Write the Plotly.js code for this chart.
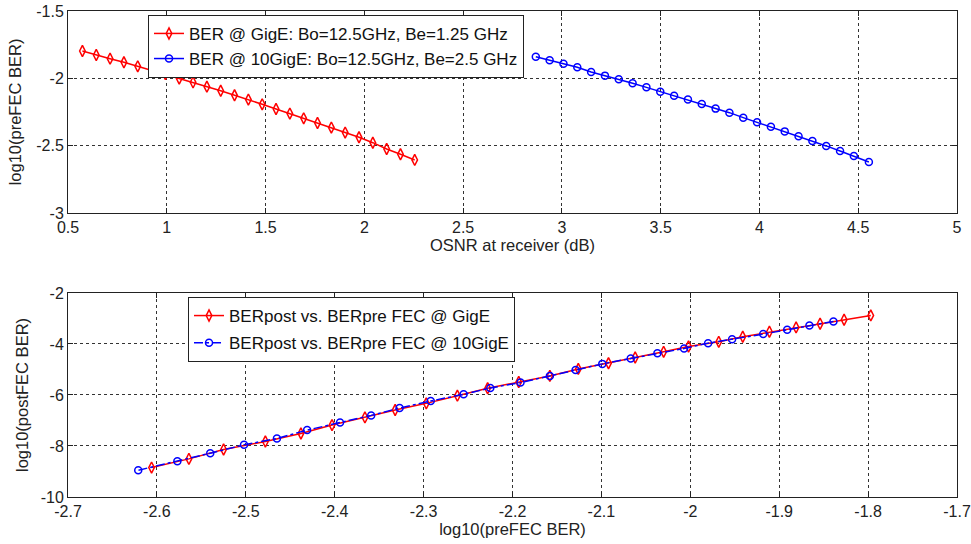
<!DOCTYPE html>
<html>
<head>
<meta charset="utf-8">
<script src="https://cdn.plot.ly/plotly-3.0.1.min.js"></script>
<style>html,body{margin:0;padding:0;background:#fff;}#chart{width:971px;height:544px;}</style>
</head>
<body>
<div id="chart"></div>
<script>
// Top panel: OSNR vs log10(preFEC BER)
const osnrGigE = [0.573,0.643,0.713,0.783,0.853,0.923,0.993,1.063,1.133,1.203,1.273,1.343,1.413,1.483,1.553,1.623,1.693,1.763,1.833,1.903,1.973,2.043,2.113,2.183,2.255];
const preGigE = [-1.797,-1.827,-1.854,-1.881,-1.911,-1.941,-1.968,-2.002,-2.030,-2.062,-2.092,-2.126,-2.158,-2.193,-2.228,-2.262,-2.297,-2.332,-2.366,-2.403,-2.438,-2.478,-2.525,-2.564,-2.606];
const osnr10G = [2.868,2.938,3.008,3.078,3.148,3.218,3.288,3.358,3.428,3.498,3.568,3.638,3.708,3.778,3.848,3.918,3.988,4.058,4.128,4.198,4.268,4.338,4.408,4.478,4.554];
const pre10G = [-1.839,-1.866,-1.891,-1.918,-1.953,-1.980,-2.007,-2.037,-2.067,-2.099,-2.129,-2.158,-2.191,-2.225,-2.255,-2.292,-2.327,-2.359,-2.394,-2.431,-2.465,-2.502,-2.540,-2.577,-2.621];
// Bottom panel: postFEC values (ordered along preGigE / pre10G above)
const postGigE = [-2.879,-3.049,-3.207,-3.351,-3.521,-3.718,-3.915,-4.098,-4.308,-4.531,-4.754,-4.977,-5.252,-5.490,-5.738,-6.026,-6.328,-6.590,-6.879,-7.180,-7.508,-7.823,-8.138,-8.505,-8.846];
const post10G = [-3.115,-3.272,-3.443,-3.613,-3.810,-3.967,-4.177,-4.361,-4.570,-4.780,-5.016,-5.252,-5.515,-5.725,-5.974,-6.236,-6.511,-6.800,-7.075,-7.377,-7.705,-7.954,-8.282,-8.597,-8.951];

const names = {
  topGigE: 'BER @ GigE: Bo=12.5GHz, Be=1.25 GHz',
  top10G: 'BER @ 10GigE: Bo=12.5GHz, Be=2.5 GHz',
  botGigE: 'BERpost vs. BERpre FEC @ GigE',
  bot10G: 'BERpost vs. BERpre FEC @ 10GigE'
};

const red = '#ff0000', blue = '#0000ff';
const diamond = {symbol:'diamond-tall-open', size:8, color:red, line:{width:1.5, color:red}};
const circle = {symbol:'circle-open', size:7, color:blue, line:{width:1.5, color:blue}};
const traces = [
  {x: osnrGigE, y: preGigE, name: names.topGigE, xaxis:'x', yaxis:'y', mode:'lines+markers',
   line:{color:red, width:1.5}, marker:diamond, legend:'legend', legendgroup:'a'},
  {x: osnr10G, y: pre10G, name: names.top10G, xaxis:'x', yaxis:'y', mode:'lines+markers',
   line:{color:blue, width:1.5}, marker:circle, legend:'legend', legendgroup:'a'},
  {x: preGigE, y: postGigE, name: names.botGigE, xaxis:'x2', yaxis:'y2', mode:'lines+markers',
   line:{color:red, width:1.5}, marker:diamond, legend:'legend2', legendgroup:'c'},
  {x: pre10G, y: post10G, name: names.bot10G, xaxis:'x2', yaxis:'y2', mode:'lines+markers',
   line:{color:blue, width:1.5, dash:'dashdot'}, marker:circle, legend:'legend2', legendgroup:'d'}
];

const font = {family:'Liberation Sans, Arial, sans-serif', size:16, color:'#222'};
const tfont = {family:'Liberation Sans, Arial, sans-serif', size:16.5, color:'#222'};
const axBase = {showline:true, mirror:'ticks', linecolor:'#222', linewidth:1, ticks:'inside', ticklen:5, tickcolor:'#222',
  showgrid:true, gridcolor:'#333', griddash:'dot', gridwidth:1, zeroline:false, tickfont:font};

const legBase = {bgcolor:'#fff', bordercolor:'#222', borderwidth:1, font:{family:font.family, size:17, color:'#111'},
  xanchor:'left', yanchor:'top'};

const layout = {
  width:971, height:544,
  margin:{l:68, r:14, t:11, b:47},
  paper_bgcolor:'#fff', plot_bgcolor:'#fff',
  font: font,
  showlegend:true,
  xaxis: Object.assign({}, axBase, {domain:[0,1], anchor:'y', range:[0.5,5], tickvals:[0.5,1,1.5,2,2.5,3,3.5,4,4.5,5],
    ticktext:['0.5','1','1.5','2','2.5','3','3.5','4','4.5','5'],
    title:{text:'OSNR at receiver (dB)', font:tfont, standoff:0}}),
  yaxis: Object.assign({}, axBase, {domain:[0.5844,1], anchor:'x', range:[-3,-1.5], tickvals:[-3,-2.5,-2,-1.5],
    ticktext:['-3','-2.5','-2','-1.5'],
    title:{text:'log10(preFEC BER)', font:tfont, standoff:10}}),
  xaxis2: Object.assign({}, axBase, {domain:[0,1], anchor:'y2', range:[-2.7,-1.7], tickvals:[-2.7,-2.6,-2.5,-2.4,-2.3,-2.2,-2.1,-2,-1.9,-1.8,-1.7],
    ticktext:['-2.7','-2.6','-2.5','-2.4','-2.3','-2.2','-2.1','-2','-1.9','-1.8','-1.7'],
    title:{text:'log10(preFEC BER)', font:tfont, standoff:0}}),
  yaxis2: Object.assign({}, axBase, {domain:[0,0.4198], anchor:'x2', range:[-10,-2], tickvals:[-10,-8,-6,-4,-2],
    ticktext:['-10','-8','-6','-4','-2'],
    title:{text:'log10(postFEC BER)', font:tfont, standoff:7}}),
  legend: Object.assign({}, legBase, {x:0.09, y:0.992, tracegroupgap:0}),
  legend2: Object.assign({}, legBase, {x:0.135, y:0.4115, tracegroupgap:2})
};

Plotly.newPlot('chart', traces, layout, {displayModeBar:false, staticPlot:true});
</script>
</body>
</html>
